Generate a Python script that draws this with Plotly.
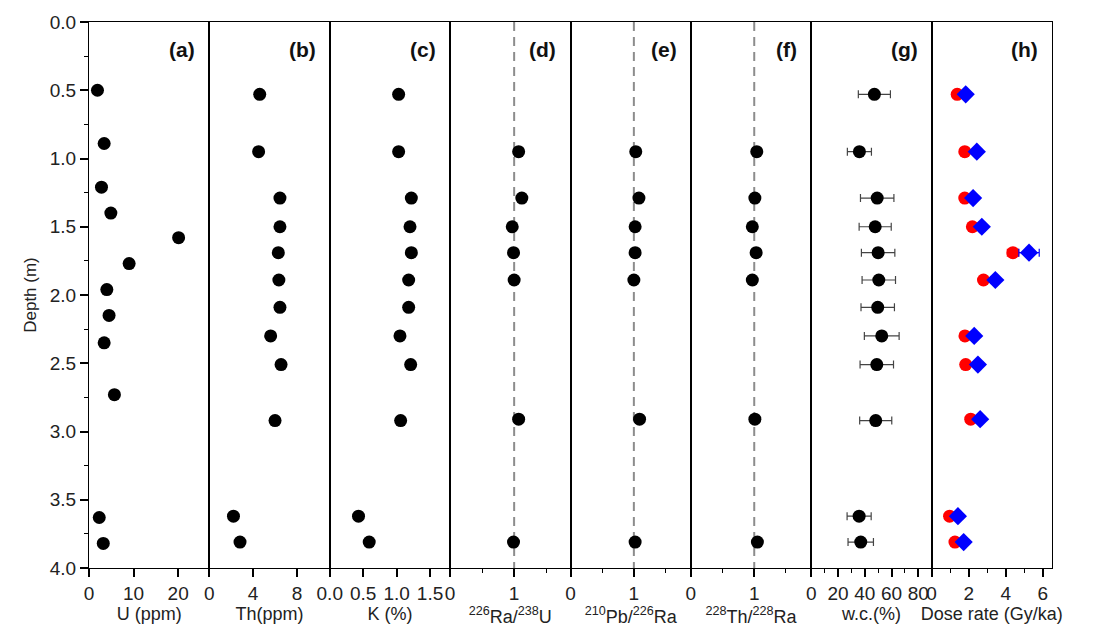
import plotly.graph_objects as go
from plotly.subplots import make_subplots

# ---------------- data ----------------
depth_u = [0.50, 0.89, 1.21, 1.40, 1.58, 1.77, 1.96, 2.15, 2.35, 2.73, 3.63, 3.82]
u_ppm = [1.9, 3.4, 2.8, 4.9, 20.1, 9.0, 4.0, 4.5, 3.4, 5.7, 2.3, 3.2]

depth_main = [0.53, 0.95, 1.29, 1.50, 1.69, 1.89, 2.09, 2.30, 2.51, 2.92, 3.62, 3.81]
th_ppm = [4.6, 4.5, 6.45, 6.45, 6.3, 6.35, 6.45, 5.6, 6.55, 6.0, 2.2, 2.8]
k_pct = [1.03, 1.03, 1.22, 1.20, 1.22, 1.18, 1.18, 1.05, 1.21, 1.06, 0.43, 0.59]
wc_pct = [47.2, 36.0, 49.3, 47.8, 50.0, 50.5, 49.7, 52.7, 49.0, 48.2, 35.8, 37.0]
wc_err = [12.0, 9.0, 12.5, 12.0, 12.5, 12.5, 12.5, 13.0, 12.5, 12.0, 9.0, 9.5]

depth_ratio = [0.95, 1.29, 1.50, 1.69, 1.89, 2.91, 3.81]
ra_u = [1.07, 1.12, 0.97, 0.99, 1.00, 1.07, 0.99]
pb_ra = [1.03, 1.08, 1.02, 1.02, 1.00, 1.09, 1.02]
th_ra = [1.04, 1.01, 0.97, 1.03, 0.97, 1.01, 1.05]

depth_dose = [0.53, 0.95, 1.29, 1.50, 1.69, 1.89, 2.30, 2.51, 2.91, 3.62, 3.81]
dose_red = [1.38, 1.79, 1.79, 2.20, 4.39, 2.80, 1.80, 1.84, 2.11, 0.97, 1.26]
dose_red_err = [0.10, 0.10, 0.10, 0.12, 0.30, 0.15, 0.10, 0.10, 0.12, 0.08, 0.08]
dose_blue = [1.84, 2.44, 2.24, 2.71, 5.26, 3.44, 2.30, 2.50, 2.62, 1.42, 1.73]
dose_blue_err = [0.12, 0.15, 0.14, 0.18, 0.55, 0.22, 0.14, 0.15, 0.16, 0.10, 0.10]

ref_ratio = [1, 1]
ref_depth = [0, 4]

panel_labels = ["(a)", "(b)", "(c)", "(d)", "(e)", "(f)", "(g)", "(h)"]
x_titles = ["U (ppm)", "Th(ppm)", "K (%)",
            "<sup>226</sup>Ra/<sup>238</sup>U",
            "<sup>210</sup>Pb/<sup>226</sup>Ra",
            "<sup>228</sup>Th/<sup>228</sup>Ra",
            "w.c.(%)", "Dose rate (Gy/ka)"]
x_ranges = [[0, 27], [0, 11], [0, 1.8], [0, 1.88], [0, 1.9], [0, 1.9], [0, 90], [0, 6.5]]
x_tickvals = [[0, 10, 20], [0, 4, 8], [0, 0.5, 1.0, 1.5], [0, 1], [0, 1], [0, 1],
              [0, 20, 40, 60, 80], [0, 2, 4, 6]]
x_ticktext = [["0", "10", "20"], ["0", "4", "8"], ["0.0", "0.5", "1.0", "1.5"],
              ["0", "1"], ["0", "1"], ["0", "1"],
              ["0", "20", "40", "60", "80"], ["0", "2", "4", "6"]]
x_minor = [None, None, None, 0.5, 0.5, 0.5, 10, 1]
y_ticks = [0.0, 0.5, 1.0, 1.5, 2.0, 2.5, 3.0, 3.5, 4.0]

FONT = "Liberation Sans, Arial, sans-serif"
TXT = "#222222"
black_marker = dict(color="black", size=13, symbol="circle")

fig = make_subplots(rows=1, cols=8, shared_yaxes=True, horizontal_spacing=0)

# reference dashed lines
for col in (4, 5, 6):
    fig.add_trace(go.Scatter(x=ref_ratio, y=ref_depth, mode="lines",
                             line=dict(color="#8c8c8c", width=2, dash="9px,6px"),
                             showlegend=False, hoverinfo="skip"), row=1, col=col)

fig.add_trace(go.Scatter(x=u_ppm, y=depth_u, mode="markers", marker=black_marker,
                         showlegend=False), row=1, col=1)
fig.add_trace(go.Scatter(x=th_ppm, y=depth_main, mode="markers", marker=black_marker,
                         showlegend=False), row=1, col=2)
fig.add_trace(go.Scatter(x=k_pct, y=depth_main, mode="markers", marker=black_marker,
                         showlegend=False), row=1, col=3)
fig.add_trace(go.Scatter(x=ra_u, y=depth_ratio, mode="markers", marker=black_marker,
                         showlegend=False), row=1, col=4)
fig.add_trace(go.Scatter(x=pb_ra, y=depth_ratio, mode="markers", marker=black_marker,
                         showlegend=False), row=1, col=5)
fig.add_trace(go.Scatter(x=th_ra, y=depth_ratio, mode="markers", marker=black_marker,
                         showlegend=False), row=1, col=6)
fig.add_trace(go.Scatter(x=wc_pct, y=depth_main, mode="markers", marker=black_marker,
                         error_x=dict(type="data", array=wc_err, color="#444444",
                                      thickness=1.2, width=4),
                         showlegend=False), row=1, col=7)
fig.add_trace(go.Scatter(x=dose_red, y=depth_dose, mode="markers",
                         marker=dict(color="#ff0000", size=13, symbol="circle"),
                         error_x=dict(type="data", array=dose_red_err, color="#ff0000",
                                      thickness=1.2, width=4),
                         showlegend=False), row=1, col=8)
fig.add_trace(go.Scatter(x=dose_blue, y=depth_dose, mode="markers",
                         marker=dict(color="#0000ff", size=14, symbol="diamond"),
                         error_x=dict(type="data", array=dose_blue_err, color="#0000ff",
                                      thickness=1.2, width=4),
                         showlegend=False), row=1, col=8)

for i in range(8):
    xa = dict(range=x_ranges[i], tickvals=x_tickvals[i], ticktext=x_ticktext[i],
              showline=True, linecolor="black", linewidth=1.3, mirror=True,
              ticks="outside", ticklen=8, tickwidth=1.5, tickcolor="black",
              showgrid=False, zeroline=False,
              tickfont=dict(family=FONT, size=19, color=TXT),
              title=dict(text=x_titles[i], font=dict(family=FONT, size=18, color=TXT),
                         standoff=2))
    if x_minor[i] is not None:
        xa["minor"] = dict(dtick=x_minor[i], ticks="outside", ticklen=4,
                           tickwidth=1.2, tickcolor="black", showgrid=False)
    fig.update_xaxes(row=1, col=i + 1, **xa)
    ya = dict(range=[4, 0], showline=True, linecolor="black", linewidth=1.3,
              mirror=True, showgrid=False, zeroline=False)
    if i == 0:
        ya.update(tickvals=y_ticks, ticktext=[f"{v:.1f}" for v in y_ticks],
                  ticks="outside", ticklen=8, tickwidth=1.5, tickcolor="black",
                  tickfont=dict(family=FONT, size=19, color=TXT),
                  minor=dict(dtick=0.25, ticks="outside", ticklen=4, tickwidth=1.2,
                             tickcolor="black", showgrid=False),
                  title=dict(text="Depth (m)", font=dict(family=FONT, size=17, color=TXT),
                             standoff=8))
    else:
        ya.update(ticks="", showticklabels=False)
    fig.update_yaxes(row=1, col=i + 1, **ya)
    xref = "x domain" if i == 0 else f"x{i + 1} domain"
    yref = "y domain" if i == 0 else f"y{i + 1} domain"
    fig.add_annotation(text=f"<b>{panel_labels[i]}</b>", xref=xref, yref=yref,
                       x=0.9, y=0.975, xanchor="right", yanchor="top", showarrow=False,
                       font=dict(family=FONT, size=21, color="#111"))

fig.update_layout(width=1101, height=641,
                  margin=dict(l=89, r=49, t=18, b=73),
                  paper_bgcolor="white", plot_bgcolor="white",
                  showlegend=False)

fig.write_html("out.html")
